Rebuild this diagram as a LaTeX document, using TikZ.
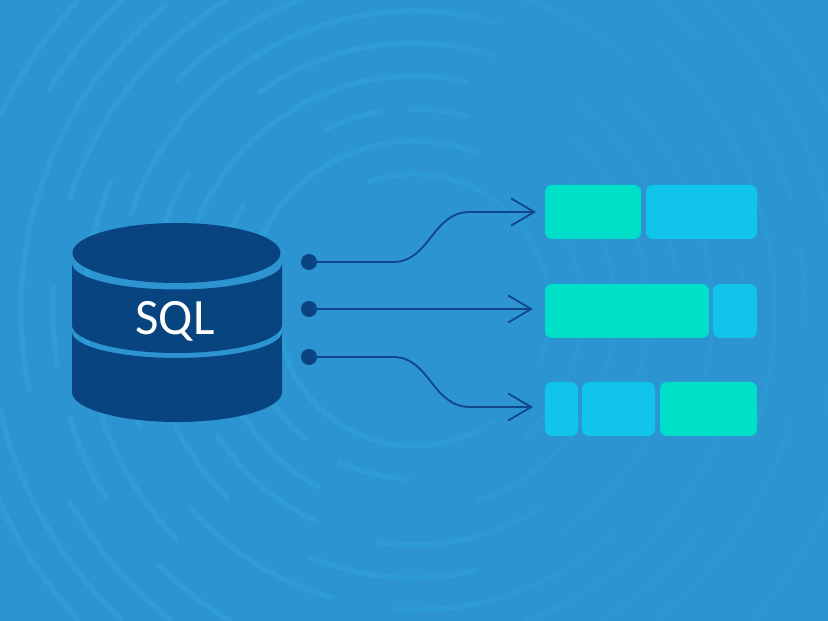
\documentclass[tikz,border=0pt]{standalone}
\usepackage{fontspec}
\setmainfont{Carlito}
\usetikzlibrary{arrows.meta}
\definecolor{bgblue}{HTML}{2B94D1}
\definecolor{ringblue}{HTML}{2E9DD6}
\definecolor{dbblue}{HTML}{08447F}
\definecolor{wireblue}{HTML}{10478A}
\definecolor{barcyan}{HTML}{10C4EA}
\definecolor{bargreen}{HTML}{00E0C8}
\tikzset{
  ring/.style={draw=ringblue,line width=5.5pt,line cap=round},
  veil/.style={fill=bgblue,fill opacity=0.2,draw=none},
  dbpart/.style={fill=dbblue,draw=none},
  bar/.style={rectangle,rounded corners=7pt,inner sep=0pt,outer sep=0pt,minimum height=54pt,anchor=north west},
  cyanbar/.style={bar,fill=barcyan},
  greenbar/.style={bar,fill=bargreen},
  dot/.style={circle,fill=dbblue,inner sep=0pt,minimum size=16pt},
  wire/.style={draw=wireblue,line width=1.8pt,-{Straight Barb[length=23pt,width=27pt,line width=1.8pt]}}
}
\newcommand{\ringarc}[5]{%
  \pgfmathsetmacro{\aS}{atan2(310-#3,#2-414)}%
  \pgfmathsetmacro{\aE}{atan2(310-#5,#4-414)}%
  \pgfmathsetmacro{\aD}{mod(\aE-\aS+720,360)}%
  \pgfmathsetmacro{\aD}{\aD>180?\aD-360:\aD}%
  \draw[ring] ({414+#1*cos(\aS)},{311+#1*sin(\aS)}) arc[start angle=\aS,delta angle=\aD,radius=#1pt];%
}
\begin{document}
\begin{tikzpicture}[x=1pt,y=1pt]
\useasboundingbox (0,0) rectangle (828,621);
\fill[bgblue] (0,0) rectangle (828,621);
\begin{scope}
\clip (0,0) rectangle (828,621);
% r=136
\ringarc{136}{370}{182}{538}{360}
\ringarc{136}{282}{330}{492}{422}
% r=169
\ringarc{169}{260}{240}{477}{153}
\ringarc{169}{260}{380}{305}{438}
\ringarc{169}{340}{462}{408}{480}
\ringarc{168}{566}{225}{526}{435}
% r=201
\ringarc{201}{325}{130}{383}{110}
\ringarc{201}{411}{108}{467}{115}
\ringarc{200}{245}{207}{225}{240}
\ringarc{201}{240}{410}{318}{488}
\ringarc{201}{566}{182}{479}{502}
% r=234
\ringarc{234}{200}{220}{466}{80}
\ringarc{233}{218}{435}{315}{522}
\ringarc{235}{377}{543}{541}{507}
\ringarc{234}{571}{138}{636}{395}
% r=265
\ringarc{267}{260}{93}{497}{55}
\ringarc{264}{188}{173}{160}{235}
\ringarc{265}{160}{400}{227}{498}
\ringarc{268}{310}{557}{476}{572}
\ringarc{265}{577}{102}{675}{270}
\ringarc{266}{650}{430}{561}{533}
% r=298
\ringarc{299}{135}{215}{497}{21}
\ringarc{298}{150}{400}{141}{425}
\ringarc{299}{192}{507}{330}{600}
\ringarc{300}{395}{611}{614}{533}
\ringarc{298}{624}{100}{704}{400}
% r=330
\ringarc{330}{178}{80}{414}{-25}
\ringarc{330}{414}{-25}{634}{62}
\ringarc{329}{111}{182}{100}{420}
\ringarc{330}{100}{420}{175}{540}
\ringarc{330}{701}{150}{730}{228}
\ringarc{330}{738}{270}{744}{310}
\ringarc{330}{725}{420}{527}{620}
% r=361
\ringarc{362}{72}{198}{227}{0}
\ringarc{361}{55}{288}{58}{365}
\ringarc{361}{70}{417}{106}{499}
\ringarc{361}{157}{567}{230}{620}
\ringarc{362}{702}{530}{604}{620}
\ringarc{361}{657}{42}{751}{440}
% r=393
\ringarc{393}{30}{390}{165}{5}
\ringarc{394}{70}{503}{170}{620}
\ringarc{394}{657}{0}{697}{35}
\ringarc{393}{757}{118}{790}{200}
\ringarc{391}{798}{248}{805}{327}
\ringarc{393}{789}{420}{659}{620}
% r=425
\ringarc{426}{50}{90}{120}{0}
\ringarc{426}{0}{410}{120}{620}
\ringarc{425}{707}{0}{828}{227}
\ringarc{423}{835}{385}{823}{410}
% r=458
\ringarc{457}{-10}{110}{75}{0}
\ringarc{457}{-5}{490}{77}{620}
\ringarc{460}{754}{0}{840}{120}
\ringarc{458}{835}{480}{754}{620}
\end{scope}
% the rings grow fainter toward the right
\fill[veil] (380,0) rectangle (828,621);
\fill[veil] (480,0) rectangle (828,621);
\fill[veil] (560,0) rectangle (828,621);
% cylinder
\fill[dbpart] (176.5,368) ellipse [x radius=104,y radius=30];
\fill[dbpart] (72,357.5) arc[start angle=180,end angle=360,x radius=105,y radius=26] -- (282,296) arc[start angle=0,end angle=-180,x radius=105,y radius=28] -- cycle;
\fill[dbpart] (72,289) arc[start angle=180,end angle=360,x radius=105,y radius=26] -- (282,229) arc[start angle=0,end angle=-180,x radius=105,y radius=30] -- cycle;
\node[text=white,font=\fontsize{51}{51}\selectfont,inner sep=0pt] (sql) at (175,300) {SQL};
% bars
\node[greenbar,minimum width=96pt] (g1) at (545,436) {};
\node[cyanbar,minimum width=111pt] (c1) at (646,436) {};
\node[greenbar,minimum width=164pt] (g2) at (545,337) {};
\node[cyanbar,minimum width=44pt] (c2) at (713,337) {};
\node[cyanbar,minimum width=33pt] (c3) at (545,239) {};
\node[cyanbar,minimum width=73pt] (c4) at (582,239) {};
\node[greenbar,minimum width=97pt] (g3) at (660,239) {};
% connectors
\node[dot] (d1) at (309,359) {};
\node[dot] (d2) at (309,312) {};
\node[dot] (d3) at (309,264) {};
\coordinate (e1) at (536,409);
\coordinate (e2) at (533,312);
\coordinate (e3) at (533,214);
\draw[wire] (d1.center) -- (393,359) .. controls (430,359) and (432,409) .. (470,409) -- (e1);
\draw[wire] (d2.center) -- (e2);
\draw[wire] (d3.center) -- (393,264) .. controls (430,264) and (432,214) .. (470,214) -- (e3);
\end{tikzpicture}
\end{document}
